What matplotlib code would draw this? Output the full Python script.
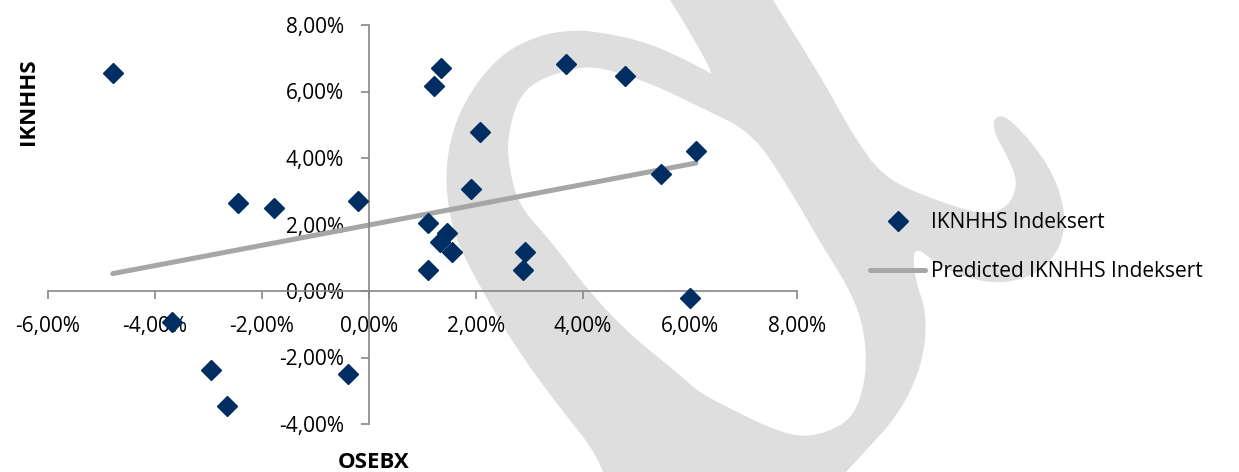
import numpy as np
import matplotlib
matplotlib.use("Agg")
import matplotlib.pyplot as plt
from matplotlib.path import Path
from matplotlib.patches import PathPatch
from matplotlib.ticker import FuncFormatter

# Data (avkastning i prosent)
osebx = [-4.79, -2.45, -1.78, -0.21, -3.68, -2.95, -2.65, -0.39,
         1.35, 1.21, 2.07, 1.91, 1.10, 1.46, 1.33, 1.55, 1.10,
         2.92, 2.88, 3.68, 4.79, 5.46, 6.11, 6.00]
iknhhs = [6.56, 2.65, 2.50, 2.71, -0.93, -2.38, -3.46, -2.50,
          6.71, 6.17, 4.78, 3.07, 2.05, 1.74, 1.47, 1.17, 0.63,
          1.17, 0.63, 6.83, 6.47, 3.52, 4.21, -0.21]
x_ticks = [-6, -4, -2, 0, 2, 4, 6, 8]
y_ticks = [-4, -2, 0, 2, 4, 6, 8]
series_name = "IKNHHS Indeksert"
pred_name = "Predicted IKNHHS Indeksert"

plt.rcParams["font.family"] = ["Open Sans", "DejaVu Sans"]

W, H = 1239, 472
fig = plt.figure(figsize=(W / 100, H / 100), dpi=100)

# vannmerke i bakgrunnen (pikselkoordinater)
wm_outer = [(621, -80), (723, -80), (823, 80), (850, 130), (883, 178),
            (940, 202), (985, 215), (1008, 207), (1017, 187), (1013, 167),
            (990, 125), (1002, 112), (1030, 140), (1053, 173), (1065, 210),
            (1063, 240), (1050, 262), (1030, 277), (997, 284), (960, 276),
            (935, 262), (913, 245), (915, 280), (927, 313), (923, 363),
            (900, 413), (860, 457), (820, 500), (610, 500), (600, 458),
            (553, 399), (517, 349), (487, 299), (463, 255), (450, 220),
            (445, 173), (453, 127), (473, 87), (503, 53), (537, 36), (570, 30),
            (600, 32), (650, 43), (700, 67), (718, 78)]
wm_inner = [(753, 133), (790, 190), (823, 247), (847, 285), (862, 320),
            (867, 360), (862, 395), (850, 420), (825, 433), (800, 437),
            (770, 428), (737, 412), (700, 393), (680, 375), (627, 332),
            (587, 289), (550, 240), (520, 207), (510, 173), (507, 140),
            (517, 100), (537, 80), (575, 68), (600, 67), (650, 83), (700, 107)]


def chaikin(pts, n=2):
    p = np.array(pts, dtype=float)
    for _ in range(n):
        q = np.roll(p, -1, axis=0)
        p = np.column_stack([0.75 * p + 0.25 * q, 0.25 * p + 0.75 * q]).reshape(-1, 2)
    return p


def area(p):
    return 0.5 * np.sum(p[:, 0] * np.roll(p[:, 1], -1) - np.roll(p[:, 0], -1) * p[:, 1])


outer = chaikin(wm_outer)
inner = chaikin(wm_inner)
if np.sign(area(outer)) == np.sign(area(inner)):
    inner = inner[::-1]
verts = np.vstack([outer, outer[:1], inner, inner[:1]])
codes = ([Path.MOVETO] + [Path.LINETO] * (len(outer) - 1) + [Path.CLOSEPOLY]
         + [Path.MOVETO] + [Path.LINETO] * (len(inner) - 1) + [Path.CLOSEPOLY])

bg = fig.add_axes([0, 0, 1, 1], zorder=0)
bg.set_xlim(0, W)
bg.set_ylim(H, 0)
bg.axis("off")
bg.add_patch(PathPatch(Path(verts, codes), facecolor="#dedede", edgecolor="none"))

# hovedgraf
ax = fig.add_axes([48 / W, 48 / H, 749 / W, 399 / H], zorder=1)
ax.patch.set_alpha(0)

x = np.array(osebx)
y = np.array(iknhhs)
coef = np.polyfit(x, y, 1)
xs = np.sort(x)

ax.plot(xs, np.polyval(coef, xs), color="#a6a6a6", lw=3.6,
        solid_capstyle="round", label=pred_name, zorder=2)
ax.plot(x, y, linestyle="none", marker="D", ms=10.5, color="#002d62",
        label=series_name, zorder=3)

ax.set_xlim(-6, 8)
ax.set_ylim(-4, 8)
ax.set_xticks(x_ticks)
ax.set_yticks(y_ticks)
fmt = FuncFormatter(lambda v, p: f"{v:.2f}".replace(".", ",") + "%")
ax.xaxis.set_major_formatter(fmt)
ax.yaxis.set_major_formatter(fmt)

for s in ["top", "right"]:
    ax.spines[s].set_visible(False)
ax.spines["left"].set_position(("data", 0))
ax.spines["bottom"].set_position(("data", 0))
for s in ["left", "bottom"]:
    ax.spines[s].set_color("#868686")
    ax.spines[s].set_linewidth(1.2)
ax.tick_params(axis="both", direction="out", length=6, width=1.2,
               color="#868686", labelsize=15, labelcolor="black")
ax.tick_params(axis="x", pad=12)
ax.tick_params(axis="y", pad=12)

fig.text(28 / W, 1 - 102 / H, "IKNHHS", rotation=90, fontsize=16,
         fontweight="bold", ha="center", va="center")
fig.text(374 / W, 1 - 463 / H, "OSEBX", fontsize=16, fontweight="bold",
         ha="center", va="center")

h, l = ax.get_legend_handles_labels()
fig.legend(h[::-1], l[::-1], loc="center left",
           bbox_to_anchor=(870 / W, 1 - 247 / H), frameon=False,
           fontsize=15, handlelength=2.65, handletextpad=0.3,
           labelspacing=1.35, borderpad=0, borderaxespad=0)

fig.savefig("out.png", dpi=100)
